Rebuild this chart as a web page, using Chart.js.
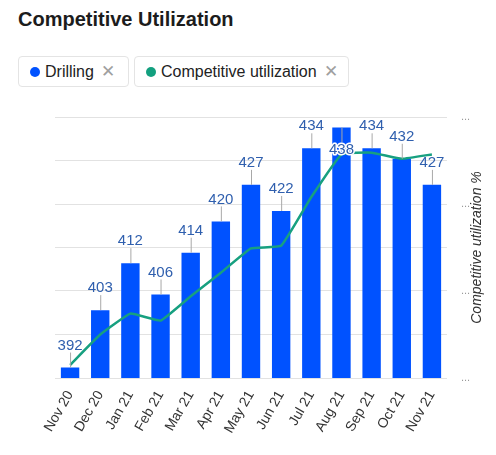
<!DOCTYPE html>
<html>
<head>
<meta charset="utf-8">
<script src="https://cdn.jsdelivr.net/npm/chart.js@4"></script>
<style>
  html, body { margin: 0; padding: 0; background: #fff; }
  body { width: 496px; height: 455px; position: relative; overflow: hidden;
    font-family: "Liberation Sans", Arial, sans-serif; }
  h1 { position: absolute; left: 18px; top: 8px; margin: 0; font-size: 20px; font-weight: bold; color: #1c1c1c; }
  .chip { position: absolute; top: 56px; height: 31px; box-sizing: border-box; border: 1px solid #e4e4e4;
    border-radius: 4px; display: flex; align-items: center; font-size: 16px; color: #222; }
  .chip .dot { width: 10px; height: 10px; border-radius: 50%; margin: 0 5px 0 11px; }
  .chip .x { color: #a0a0a0; font-size: 17px; margin: 0 0 0 7px; }
  #wrap { position: absolute; left: 0; top: 100px; width: 496px; height: 355px; }
</style>
</head>
<body>
<h1>Competitive Utilization</h1>
<div class="chip" style="left:18px;width:111px"><span class="dot" style="background:#0052ff"></span>Drilling<span class="x">✕</span></div>
<div class="chip" style="left:134px;width:215px"><span class="dot" style="background:#13a07f"></span>Competitive utilization<span class="x">✕</span></div>
<div id="wrap"><canvas id="c"></canvas></div>
<script>
// values
const months = ["Nov 20", "Dec 20", "Jan 21", "Feb 21", "Mar 21", "Apr 21", "May 21",
  "Jun 21", "Jul 21", "Aug 21", "Sep 21", "Oct 21", "Nov 21"];
const drilling = [392, 403, 412, 406, 414, 420, 427, 422, 434, 438, 434, 432, 427];
const utilization = [61.5, 65.0, 67.4, 66.6, 69.4, 72.1, 74.9, 75.2, 80.8, 85.7, 85.9, 85.2, 85.7];
const leftTicks = [390, 398.33, 406.67, 415, 423.33, 431.67, 440];
const rightTicks = [60, 70, 80, 90];

const BLUE = "#0052ff", TEAL = "#17a080", LABEL = "#2f5fae";

// value labels with a short grey leader line
const barLabels = {
  id: "barLabels",
  afterDatasetsDraw(chart) {
    const ctx = chart.ctx, meta = chart.getDatasetMeta(1), top = chart.chartArea.top;
    ctx.save();
    ctx.font = "15px 'Liberation Sans', Arial, sans-serif";
    ctx.textAlign = "center";
    ctx.textBaseline = "middle";
    meta.data.forEach((bar, i) => {
      const x = bar.x, y = bar.y;
      const inside = y - 22 < top;   // no room above: put it inside the bar
      const ty = inside ? y + 22 : y - 22;
      ctx.strokeStyle = "#a8a8a8"; ctx.lineWidth = 1;
      ctx.beginPath(); ctx.moveTo(x + 0.5, y); ctx.lineTo(x + 0.5, inside ? y + 15 : y - 15); ctx.stroke();
      const t = String(drilling[i]);
      if (inside) { ctx.lineWidth = 3; ctx.strokeStyle = "#fff"; ctx.lineJoin = "round"; ctx.strokeText(t, x, ty); }
      ctx.fillStyle = LABEL;
      ctx.fillText(t, x, ty);
    });
    ctx.restore();
  }
};

// right axis title, reading bottom-to-top
const rightTitle = {
  id: "rightTitle",
  afterDraw(chart) {
    const ctx = chart.ctx, a = chart.chartArea;
    ctx.save();
    ctx.translate(477, (a.top + a.bottom) / 2);
    ctx.rotate(-Math.PI / 2);
    ctx.font = "italic 14px 'Liberation Sans', Arial, sans-serif";
    ctx.fillStyle = "#333";
    ctx.textAlign = "center";
    ctx.textBaseline = "middle";
    ctx.fillText("Competitive utilization %", 0, 0);
    ctx.restore();
  }
};

new Chart(document.getElementById("c"), {
  data: {
    labels: months,
    datasets: [
      { type: "line", label: "Competitive utilization", data: utilization, yAxisID: "y1",
        borderColor: TEAL, borderWidth: 2.5, pointRadius: 0, tension: 0.1, order: 0 },
      { type: "bar", label: "Drilling", data: drilling, yAxisID: "y", backgroundColor: BLUE,
        barPercentage: 0.61, categoryPercentage: 1, order: 1 },
    ],
  },
  options: {
    responsive: true, maintainAspectRatio: false, animation: false,
    layout: { padding: { left: 55, top: 17, right: 0, bottom: 0 } },
    plugins: { legend: { display: false }, tooltip: { enabled: false } },
    scales: {
      x: {
        grid: { display: false }, border: { display: false },
        ticks: { color: "#333", font: { size: 14, family: "'Liberation Sans', Arial" },
          minRotation: 60, maxRotation: 60, padding: 2, autoSkip: false },
        afterFit: (s) => { s.height = 77; },
      },
      y: {
        position: "left", min: 390, max: 440,
        afterBuildTicks: (s) => { s.ticks = leftTicks.map((v) => ({ value: v })); },
        ticks: { display: false },
        grid: { color: "#e2e2e2", drawTicks: false }, border: { display: false },
        afterFit: (s) => { s.width = 0; },
      },
      y1: {
        position: "right", min: 60, max: 90,
        afterBuildTicks: (s) => { s.ticks = rightTicks.map((v) => ({ value: v })); },
        ticks: { callback: () => "...", color: "#9a9a9a", font: { size: 11 }, padding: 6 },
        grid: { display: false }, border: { display: false },
        afterFit: (s) => { s.width = 49; },
      },
    },
  },
  plugins: [barLabels, rightTitle],
});
</script>
</body>
</html>
